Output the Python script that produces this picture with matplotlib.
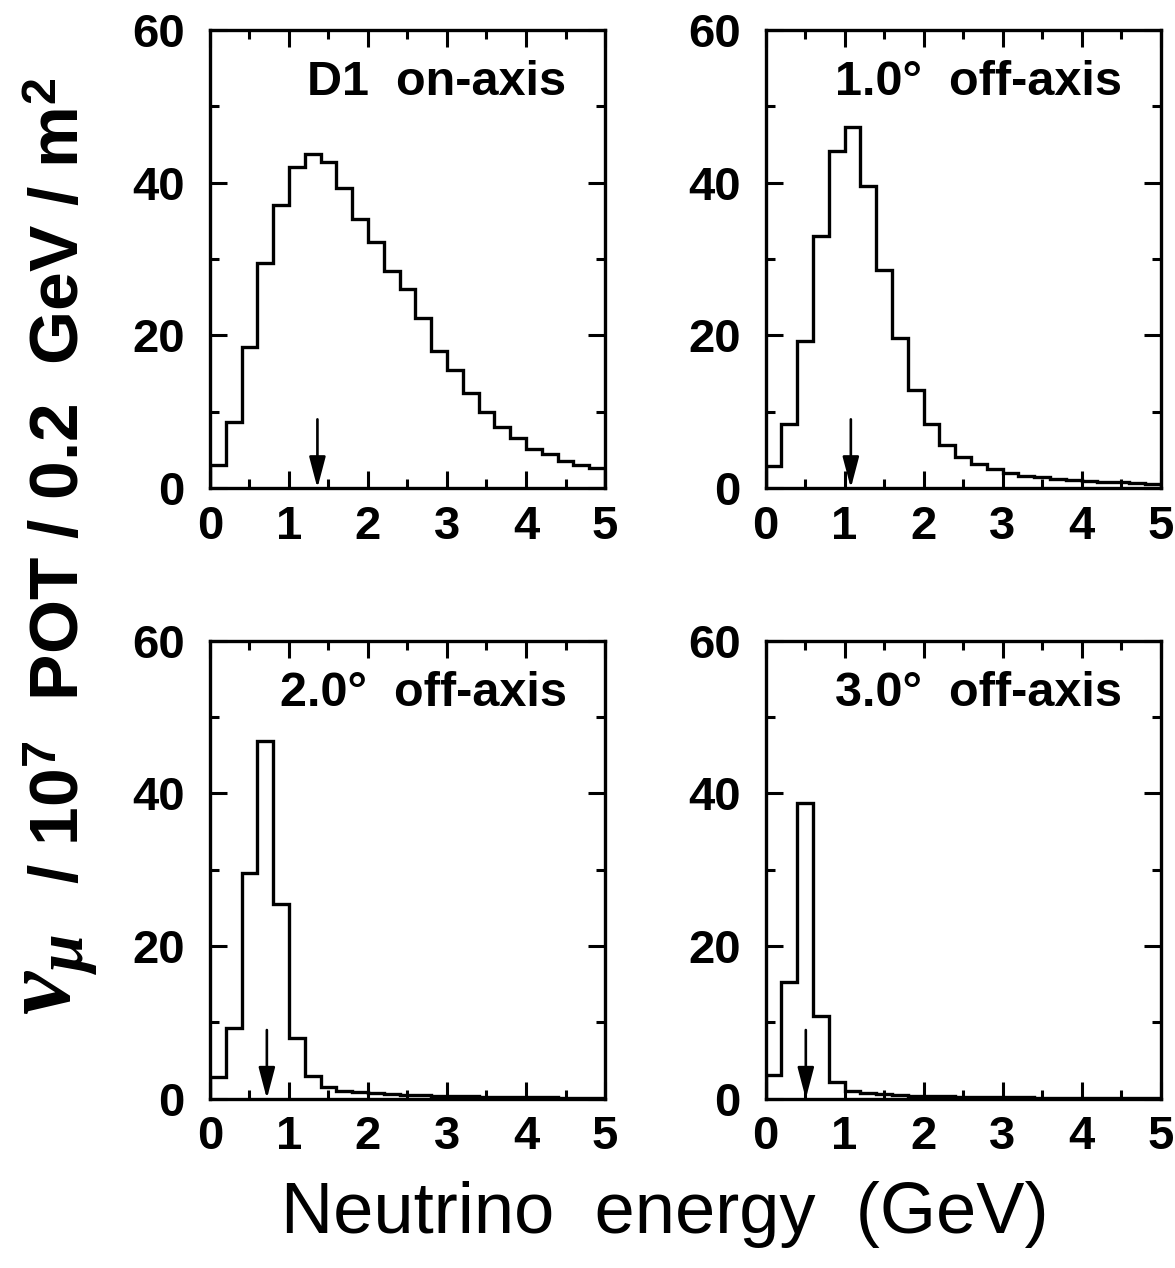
import numpy as np
import matplotlib
matplotlib.use('Agg')
import matplotlib.pyplot as plt

plt.rcParams['font.family'] = ['Liberation Sans', 'DejaVu Sans']
plt.rcParams['font.weight'] = 'bold'
plt.rcParams['mathtext.fontset'] = 'custom'
plt.rcParams['mathtext.rm'] = 'Liberation Sans:bold'
plt.rcParams['mathtext.bf'] = 'Liberation Sans:bold'
plt.rcParams['mathtext.it'] = 'Liberation Serif:italic:bold'

# 0.2 GeV bins from 0 to 5 GeV
bin_edges = np.round(np.arange(0, 5.01, 0.2), 1)

# nu_mu flux per bin
flux_d1 = [3.0, 8.6, 18.5, 29.5, 37.1, 42.1, 43.8, 42.7, 39.3, 35.2,
           32.2, 28.5, 26.1, 22.3, 17.9, 15.4, 12.4, 10.0, 8.0, 6.5,
           5.1, 4.4, 3.5, 3.0, 2.6]
flux_1deg = [2.9, 8.4, 19.3, 33.0, 44.1, 47.3, 39.6, 28.6, 19.7, 12.9,
             8.4, 5.7, 4.1, 3.1, 2.5, 2.0, 1.6, 1.4, 1.2, 1.05,
             0.95, 0.85, 0.75, 0.65, 0.55]
flux_2deg = [2.9, 9.2, 29.6, 46.9, 25.5, 8.0, 3.0, 1.5, 1.05, 0.83,
             0.7, 0.57, 0.5, 0.44, 0.38, 0.33, 0.3, 0.27, 0.24, 0.21,
             0.19, 0.17, 0.15, 0.14, 0.12]
flux_3deg = [3.05, 15.3, 38.8, 10.8, 2.2, 1.0, 0.7, 0.57, 0.45, 0.4,
             0.35, 0.3, 0.27, 0.24, 0.21, 0.19, 0.17, 0.15, 0.13, 0.12,
             0.11, 0.1, 0.09, 0.08, 0.08]

panel_labels = ['D1  on-axis', '1.0\u00b0  off-axis', '2.0\u00b0  off-axis', '3.0\u00b0  off-axis']
label_x = [0.246, 0.176, 0.177, 0.176]
mean_energy = [1.36, 1.08, 0.72, 0.51]   # arrow positions (GeV)
arrow_top = 9.0

fluxes = [flux_d1, flux_1deg, flux_2deg, flux_3deg]

fig = plt.figure(figsize=(11.75, 12.68), dpi=100)
lefts = [0.1787, 0.6515]
bottoms = [0.6151, 0.1335]
w, h = 0.3362, 0.3612

for i in range(4):
    ax = fig.add_axes([lefts[i % 2], bottoms[i // 2], w, h])
    ax.stairs(fluxes[i], bin_edges, color='black', lw=2.4)
    ax.set_xlim(0, 5)
    ax.set_ylim(0, 60)
    ax.set_xticks([0, 1, 2, 3, 4, 5])
    ax.set_xticks(np.arange(0.5, 5, 1.0), minor=True)
    ax.set_yticks([0, 20, 40, 60])
    ax.set_yticks([10, 30, 50], minor=True)
    ax.tick_params(which='both', direction='in', top=True, right=True,
                   width=2.2, labelsize=34)
    ax.tick_params(which='major', length=12)
    ax.tick_params(which='minor', length=6.5)
    ax.tick_params(axis='x', pad=12)
    ax.tick_params(axis='y', pad=18)
    for sp in ax.spines.values():
        sp.set_linewidth(2.4)
    ax.text(label_x[i], 0.885, panel_labels[i], transform=ax.transAxes,
            fontsize=35, fontweight='bold', ha='left', va='center')
    ax.annotate('', xy=(mean_energy[i], 0), xytext=(mean_energy[i], arrow_top),
                arrowprops=dict(arrowstyle='-|>,head_length=1.9,head_width=0.5',
                                color='black', lw=1.9, shrinkA=0, shrinkB=0))

fig.text(0.566, 0.042, 'Neutrino  energy  (GeV)', fontsize=52,
         fontweight='normal', ha='center', va='center')
fig.text(0.052, 1 - 78 / 1268, '/ 10$^7$  POT / 0.2  GeV / m$^2$', fontsize=50,
         fontweight='bold', rotation=90, ha='center', va='top')
fig.text(0.046, 1 - 1015 / 1268, r'$\nu_\mu$', fontsize=70,
         rotation=90, ha='center', va='bottom')

fig.savefig('out.png', dpi=100)
